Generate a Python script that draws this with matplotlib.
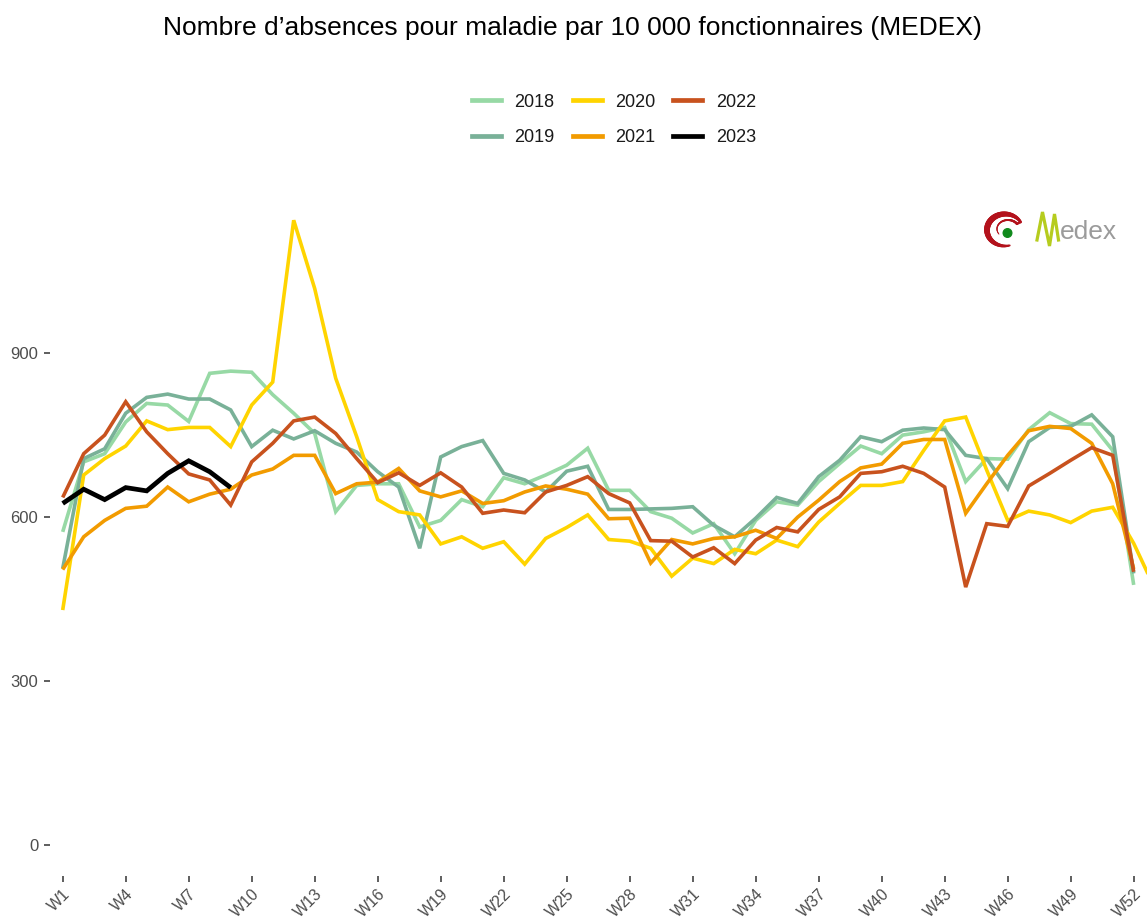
import numpy as np
import matplotlib
matplotlib.use("Agg")
import matplotlib.pyplot as plt
from matplotlib.lines import Line2D
from matplotlib.collections import LineCollection

# ISO weeks (2020 had 53 weeks)
weeks = [f"W{i}" for i in range(1, 54)]
tick_labels = weeks[::3]  # W1, W4, ..., W52

years = ["2018", "2019", "2020", "2021", "2022", "2023"]

v2018 = [573, 701, 716, 774, 808, 805, 775, 863, 867, 865,
         824, 790, 753, 610, 658, 661, 661, 582, 594, 632,
         619, 672, 661, 677, 695, 726, 649, 649, 610, 598,
         571, 588, 533, 594, 628, 622, 665, 698, 730, 716,
         750, 756, 764, 665, 707, 706, 760, 791, 771, 770,
         722, 476]
v2019 = [506, 707, 725, 790, 819, 825, 816, 816, 796, 729,
         759, 743, 758, 735, 719, 683, 655, 543, 710, 729,
         740, 680, 668, 646, 684, 693, 614, 614, 615, 616,
         619, 585, 564, 598, 636, 625, 674, 704, 747, 738,
         759, 763, 760, 713, 707, 652, 738, 764, 766, 787,
         747, 497]
v2020 = [430, 677, 707, 730, 776, 760, 764, 764, 729, 805,
         847, 1143, 1018, 854, 747, 632, 610, 604, 551, 564,
         543, 555, 514, 561, 581, 604, 559, 556, 543, 492,
         525, 515, 541, 533, 558, 546, 591, 625, 658, 658,
         665, 722, 776, 783, 686, 594, 611, 604, 590, 611,
         618, 552, 470]
v2021 = [504, 564, 594, 616, 620, 655, 628, 642, 651, 677,
         688, 713, 713, 643, 661, 664, 689, 648, 637, 648,
         625, 630, 646, 657, 651, 642, 597, 598, 516, 559,
         551, 561, 564, 576, 561, 600, 631, 665, 690, 697,
         735, 742, 742, 607, 661, 713, 758, 766, 762, 735,
         661, 505]
v2022 = [636, 716, 750, 811, 756, 716, 679, 668, 622, 701,
         735, 776, 783, 753, 707, 663, 681, 658, 681, 655,
         607, 613, 608, 646, 658, 674, 643, 626, 557, 556,
         527, 544, 515, 558, 581, 573, 614, 637, 680, 683,
         693, 680, 655, 472, 588, 583, 657, 680, 704, 727,
         713, 500]
v2023 = [625, 651, 632, 654, 648, 680, 703, 683, 654]

values = [v2018, v2019, v2020, v2021, v2022, v2023]
colors = ["#97d9a5", "#79b198", "#ffd400", "#f29b00", "#c8521e", "#000000"]
widths = [2.6, 2.6, 2.6, 2.6, 2.6, 3.4]
y_ticks = [0, 300, 600, 900]

plt.rcParams['font.family'] = ['Liberation Sans', 'DejaVu Sans']

W, H = 1147, 918
fig = plt.figure(figsize=(W / 100, H / 100), dpi=100)
fig.patch.set_facecolor("white")

# panel in pixel units (right side runs past the canvas edge)
left_px, right_px, top_px, bottom_px = 50.1, 1167.3, 189.0, 876.4
ax = fig.add_axes([left_px / W, (H - bottom_px) / H,
                   (right_px - left_px) / W, (bottom_px - top_px) / H])

for yr, vals, col, lw in zip(years, values, colors, widths):
    ax.plot(np.arange(len(vals)), vals, color=col, lw=lw,
            solid_joinstyle="miter", solid_capstyle="butt", label=yr)

ymax = max(max(v) for v in values)
pad = 0.05 * ymax
ax.set_ylim(-pad, ymax + pad)
ax.set_xlim(-0.6, len(weeks) - 1 + 0.6)

ax.set_xticks(np.arange(0, len(weeks), 3))
ax.set_xticklabels(tick_labels, rotation=45, ha="right", va="top",
                   rotation_mode="anchor")
ax.set_yticks(y_ticks)
ax.set_yticklabels([str(t) for t in y_ticks])
for s in ax.spines.values():
    s.set_visible(False)
ax.tick_params(axis="both", colors="#333333", length=4.5, width=1.1,
               labelcolor="#4d4d4d", labelsize=12)
ax.tick_params(axis="y", pad=4)
ax.tick_params(axis="x", pad=2.5, labelsize=11.5)
ax.set_facecolor("white")

# title
fig.text(572 / W, 1 - 28 / H,
         "Nombre d\u2019absences pour maladie par 10 000 fonctionnaires (MEDEX)",
         ha="center", va="center", fontsize=19, color="black")

# legend
handles = [Line2D([0], [0], color=c, lw=3.4) for c in colors]
fig.legend(handles, years, loc="center", ncol=3,
           bbox_to_anchor=(614 / W, 1 - 120 / H), frameon=False,
           fontsize=13, handlelength=1.6, handletextpad=0.75,
           columnspacing=1.0, labelspacing=1.05, labelcolor="#1a1a1a")

# logo overlay in pixel coordinates
ov = fig.add_axes([0, 0, 1, 1])
ov.set_xlim(0, W)
ov.set_ylim(H, 0)
ov.axis("off")
ov.patch.set_alpha(0)


def ell(cx, cy, rx, ry, t0, t1, n=60):
    t = np.radians(np.linspace(t0, t1, n))
    return np.column_stack([cx + rx * np.cos(t), cy - ry * np.sin(t)])


# red swirl: outer C wrapping round, hooking back into a smaller inner arc
outer = ell(1005, 230, 18, 16, 285, 30)
inner = ell(1008, 229, 11, 9, 35, 215)
pts = np.vstack([outer, inner])
segs = np.stack([pts[:-1], pts[1:]], axis=1)
n = len(segs)
prof = np.concatenate([np.sin(np.linspace(0.2, np.pi - 0.35, len(outer) - 1)) * 3.6 + 0.7,
                       np.linspace(1.8, 0.6, n - len(outer) + 1)])
ov.add_collection(LineCollection(segs, colors="#b3121c", linewidths=prof,
                                 capstyle="round"))
ov.add_patch(plt.Circle((1007.5, 233), 4.3, color="#108a1c"))

# stylised M followed by "edex"
m_pts = np.array([[1037, 240], [1042.5, 212], [1049.5, 246], [1054.5, 214], [1058.5, 240]])
ov.plot(m_pts[:, 0], m_pts[:, 1], color="#b6cc1e", lw=2.3, solid_joinstyle="miter")
ov.text(1060, 239, "edex", color="#9b9b9b", fontsize=19, ha="left",
        va="baseline")

fig.savefig("out.png", dpi=100, facecolor="white")
